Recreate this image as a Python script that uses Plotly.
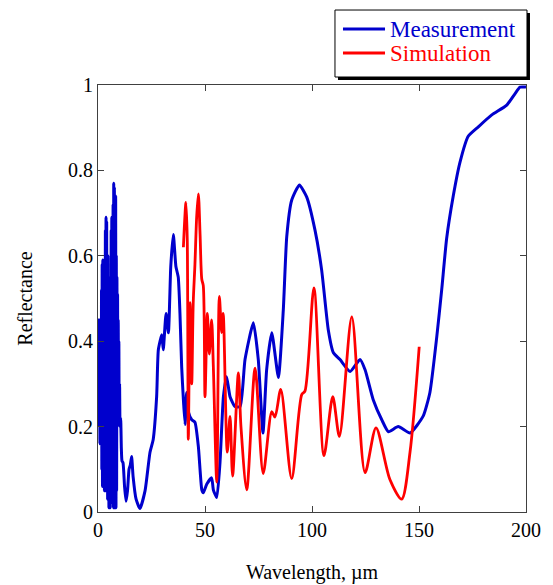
import plotly.graph_objects as go

# ---------------- data ----------------
meas_x = [0.0, 0.15, 0.3, 0.45, 0.6, 0.75, 0.9, 1.05, 1.2, 1.35, 1.5, 1.65, 1.8, 1.95, 2.1, 2.25,
          2.4, 2.55, 2.7, 2.85, 3.0, 3.15, 3.3, 3.45, 3.6, 3.75, 3.9, 4.05, 4.2, 4.35, 4.5, 4.65,
          4.8, 4.95, 5.1, 5.25, 5.4, 5.55, 5.7, 5.85, 6.0, 6.15, 6.3, 6.45, 6.6, 6.75, 6.9, 7.05,
          7.2, 7.35, 7.5, 7.65, 7.8, 7.95, 8.1, 8.25, 8.4, 8.55, 8.7, 8.85, 9.0, 9.15, 9.3, 9.45,
          9.6, 9.75, 9.9, 10.1, 10.3, 10.6, 10.9, 11.2, 11.7, 12.4, 13.1, 13.8, 14.5, 15.1, 15.7,
          16.4, 17.8, 19.6, 22.0, 24.3, 25.8, 27.4, 28.2, 29.8, 30.5, 31.8, 32.9, 34.0, 35.2,
          36.4, 37.5, 38.3, 39.1, 39.9, 40.7, 41.4, 42.2, 43.8, 45.3, 46.9, 48.5, 49.2, 50.8,
          53.1, 53.9, 55.5, 57.0, 58.6, 60.1, 61.7, 64.0, 66.4, 68.7, 72.6, 74.9, 77.1, 78.8,
          81.2, 84.3, 86.6, 88.2, 90.5, 94.1, 97.5, 101.4, 104.5, 107.6, 110.0, 113.1, 117.8,
          122.4, 124.8, 128.6, 132.6, 135.7, 140.3, 145.8, 152.0, 155.1, 158.3, 160.6, 162.9,
          166.0, 169.2, 173.0, 177.7, 184.0, 191.0, 194.9, 197.2, 200.0]
meas_y = [0.30, 0.44, 0.25, 0.45, 0.20, 0.43, 0.16, 0.45, 0.17, 0.40, 0.22, 0.52, 0.10, 0.58, 0.06, 0.59,
          0.08, 0.50, 0.06, 0.57, 0.05, 0.45, 0.12, 0.66, 0.05, 0.69, 0.06, 0.68, 0.05, 0.55, 0.03, 0.60,
          0.10, 0.51, 0.01, 0.50, 0.02, 0.45, 0.01, 0.55, 0.05, 0.66, 0.08, 0.69, 0.04, 0.62, 0.02, 0.72,
          0.01, 0.77, 0.02, 0.76, 0.01, 0.70, 0.03, 0.74, 0.01, 0.60, 0.05, 0.55, 0.20, 0.51, 0.22, 0.45,
          0.25, 0.40, 0.21, 0.30, 0.20, 0.22, 0.15, 0.12, 0.115, 0.06, 0.025, 0.05, 0.10, 0.11, 0.13,
          0.083, 0.03, 0.008, 0.05, 0.14, 0.17, 0.27, 0.38, 0.415, 0.38, 0.465, 0.42, 0.575, 0.65,
          0.575, 0.55, 0.465, 0.34, 0.263, 0.205, 0.28, 0.235, 0.216, 0.21, 0.153, 0.052, 0.045, 0.065,
          0.08, 0.052, 0.034, 0.115, 0.27, 0.317, 0.27, 0.247, 0.247, 0.357, 0.443, 0.357, 0.185, 0.333,
          0.42, 0.315, 0.474, 0.645, 0.73, 0.766, 0.738, 0.66, 0.567, 0.427, 0.373, 0.357, 0.329,
          0.357, 0.333, 0.263, 0.216, 0.188, 0.2, 0.185, 0.225, 0.28, 0.41, 0.52, 0.64,
          0.74, 0.82, 0.88, 0.902, 0.93, 0.953, 0.98, 0.995, 0.995]

sim_x = [39.9, 41.1, 41.7, 42.2, 43.0, 43.8, 44.5, 45.3, 46.1, 46.9, 47.7, 48.5, 49.2, 50.0,
         51.1, 52.0, 53.1, 53.9, 55.5, 56.7, 57.8, 58.5, 60.4, 61.7, 62.9, 65.6, 66.8, 69.5,
         73.4, 77.2, 81.2, 82.7, 85.4, 90.5, 95.2, 96.7, 100.9, 105.6, 109.7, 112.8, 118.6,
         124.8, 129.9, 136.4, 141.9, 145.8, 150.1]
sim_y = [0.62, 0.725, 0.64, 0.17, 0.49, 0.30, 0.49, 0.58, 0.69, 0.745, 0.65, 0.545, 0.53, 0.27,
         0.465, 0.37, 0.45, 0.34, 0.07, 0.505, 0.42, 0.465, 0.14, 0.224, 0.084, 0.326, 0.20, 0.052,
         0.337, 0.09, 0.235, 0.222, 0.287, 0.078, 0.275, 0.283, 0.525, 0.132, 0.27, 0.177, 0.457,
         0.092, 0.197, 0.076, 0.03, 0.14, 0.387]

series_names = ["Measurement", "Simulation"]

x_ticks = [0, 50, 100, 150, 200]
x_tick_labels = ["0", "50", "100", "150", "200"]
y_ticks = [0, 0.2, 0.4, 0.6, 0.8, 1]
y_tick_labels = ["0", "0.2", "0.4", "0.6", "0.8", "1"]

BLUE = "#0000CD"
RED = "#FF0000"
FONT = "Liberation Serif, Times New Roman, serif"
colors = [BLUE, RED]

fig = go.Figure()
fig.add_trace(go.Scatter(x=meas_x, y=meas_y, mode="lines",
                         line=dict(color=BLUE, width=3, shape="spline", smoothing=0.5),
                         name=series_names[0], showlegend=False))
fig.add_trace(go.Scatter(x=sim_x, y=sim_y, mode="lines",
                         line=dict(color=RED, width=2.8, shape="spline", smoothing=0.8),
                         name=series_names[1], showlegend=False))

axis_common = dict(showline=True, linecolor="#404040", linewidth=1, mirror="ticks",
                   ticks="inside", ticklen=6, tickcolor="#404040", showgrid=False,
                   zeroline=False, automargin=False,
                   tickfont=dict(family=FONT, size=20, color="black"))

fig.update_xaxes(range=[0, 200], tickvals=x_ticks, ticktext=x_tick_labels,
                 title=dict(text="Wavelength, µm", font=dict(family=FONT, size=20, color="black"),
                            standoff=24),
                 **axis_common)
fig.update_yaxes(range=[0, 1], tickvals=y_ticks, ticktext=y_tick_labels,
                 title=dict(text="Reflectance", font=dict(family=FONT, size=20, color="black"),
                            standoff=30),
                 **axis_common)

# ---- legend box drawn by hand (paper coordinates) ----
fig.add_shape(type="rect", xref="paper", yref="paper",
              x0=0.5607, x1=1.0093, y0=1.0117, y1=1.1686,
              fillcolor="black", line=dict(width=0), layer="above")
fig.add_shape(type="rect", xref="paper", yref="paper",
              x0=0.5537, x1=1.0023, y0=1.0187, y1=1.1756,
              fillcolor="white", line=dict(color="black", width=1), layer="above")
legend_rows = [1.1311, 1.0749]
for name, col, yy in zip(series_names, colors, legend_rows):
    fig.add_shape(type="line", xref="paper", yref="paper",
                  x0=0.5724, x1=0.6706, y0=yy, y1=yy,
                  line=dict(color=col, width=3), layer="above")
    fig.add_annotation(xref="paper", yref="paper", x=0.6785, y=yy,
                       xanchor="left", yanchor="middle", showarrow=False,
                       text=name, font=dict(family=FONT, size=23, color=col))

fig.update_layout(
    width=545, height=577,
    margin=dict(l=90, r=27, t=77, b=73),
    paper_bgcolor="white", plot_bgcolor="white",
    font=dict(family=FONT, size=20, color="black"),
    showlegend=False,
)

fig.write_html("out.html")
